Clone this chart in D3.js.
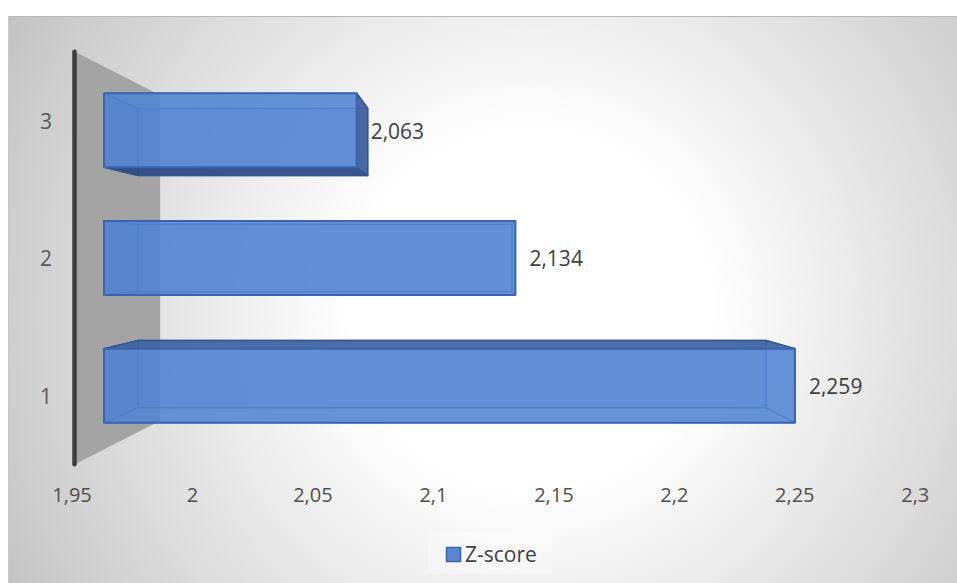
<!DOCTYPE html>
<html>
<head>
<meta charset="utf-8">
<script src="https://cdn.jsdelivr.net/npm/d3@7"></script>
<style>
  html, body { margin: 0; padding: 0; background: #ffffff; }
  svg { display: block; }
  text { font-family: "Open Sans", "Noto Sans", sans-serif; }
</style>
</head>
<body>
<svg id="chart" width="957" height="583"></svg>
<script>
// ---- data ----
const categories = ["1", "2", "3"];
const values = [2.259, 2.134, 2.063];
const seriesName = "Z-score";
const tickValues = [1.95, 2.0, 2.05, 2.1, 2.15, 2.2, 2.25, 2.3];
const labelFormat = v => String(v).replace(".", ",");

// ---- layout ----
const W = 957, H = 583;
const svg = d3.select("#chart");
const vp = [478, 258];            // vanishing point of the 3D view
const sFront = 1.0, sBack = 0.909; // depth of the bars
const sWallFront = 1.0775, sWallBack = 0.85; // depth of the floor/wall
const P = (x, y, s) => [vp[0] + s * (x - vp[0]), vp[1] + s * (y - vp[1])];

const x = d3.scaleLinear().domain([1.95, 2.3]).range([104, 886.6]);
const y = d3.scaleBand().domain(categories.slice().reverse())
  .range([66.5, 449.5]).paddingInner(0.42).paddingOuter(0.21);

// ---- background ----
const defs = svg.append("defs");
const grad = defs.append("radialGradient").attr("id", "bg")
  .attr("gradientUnits", "userSpaceOnUse")
  .attr("cx", 530).attr("cy", 310).attr("r", 640);
grad.append("stop").attr("offset", 0).attr("stop-color", "#ffffff");
grad.append("stop").attr("offset", 0.28).attr("stop-color", "#ffffff");
grad.append("stop").attr("offset", 1).attr("stop-color", "#bdbdbd");

svg.append("rect").attr("x", 8).attr("y", 16).attr("width", W).attr("height", H)
  .attr("fill", "url(#bg)");
svg.append("line").attr("x1", 8).attr("x2", W).attr("y1", 16.5).attr("y2", 16.5)
  .attr("stroke", "#b8b8b8").attr("stroke-width", 1);
svg.append("line").attr("x1", 8.5).attr("x2", 8.5).attr("y1", 16).attr("y2", H)
  .attr("stroke", "#c8c8c8").attr("stroke-width", 1);

// ---- wall / floor (at the minimum value) ----
const [r0, r1] = y.range();
const xw = x.domain()[0];
const wallPts = [P(x(xw), r0, sWallFront), P(x(xw), r0, sWallBack),
                 P(x(xw), r1, sWallBack), P(x(xw), r1, sWallFront)];
svg.append("polygon").attr("points", wallPts.map(p => p.join(",")).join(" "))
  .attr("fill", "#a4a4a4");

// axis line
const a0 = P(x(xw), r0, sWallFront), a1 = P(x(xw), r1, sWallFront);
svg.append("line").attr("x1", a0[0] - 0.5).attr("y1", a0[1]).attr("x2", a1[0] - 0.5).attr("y2", a1[1])
  .attr("stroke", "#3d3d3d").attr("stroke-width", 4.5).attr("stroke-linecap", "round");

// ---- bars ----
const data = categories.map((c, i) => ({ cat: c, value: values[i] }));
const poly = (g, pts, fill, op, stroke, sw, sop) => g.append("polygon")
  .attr("points", pts.map(p => p.join(",")).join(" "))
  .attr("fill", fill).attr("fill-opacity", op)
  .attr("stroke", stroke).attr("stroke-width", sw).attr("stroke-opacity", sop)
  .attr("stroke-linejoin", "round");

data.forEach(d => {
  const g = svg.append("g");
  const x0 = x(x.domain()[0]), x1 = x(d.value);
  const y0 = y(d.cat), y1 = y0 + y.bandwidth();
  const F = (xx, yy) => P(xx, yy, sFront), B = (xx, yy) => P(xx, yy, sBack);
  const back = [B(x0, y0), B(x1, y0), B(x1, y1), B(x0, y1)];
  const top = [F(x0, y0), F(x1, y0), B(x1, y0), B(x0, y0)];
  const bottom = [F(x0, y1), F(x1, y1), B(x1, y1), B(x0, y1)];
  const left = [F(x0, y0), B(x0, y0), B(x0, y1), F(x0, y1)];
  const right = [F(x1, y0), B(x1, y0), B(x1, y1), F(x1, y1)];
  const front = [F(x0, y0), F(x1, y0), F(x1, y1), F(x0, y1)];

  poly(g, back, "#4472c4", 0.3, "#3a66b5", 1.2, 0.8);
  const topVis = y0 > vp[1], botVis = y1 < vp[1], rightVis = x1 < vp[0];
  if (!topVis) poly(g, top, "#4472c4", 0.15, "#3a66b5", 1.2, 0.7);
  if (!botVis) poly(g, bottom, "#4472c4", 0.15, "#3a66b5", 1.2, 0.7);
  poly(g, left, "#3b64b0", 0.3, "#3a66b5", 1.2, 0.8);
  if (!rightVis) poly(g, right, "#4472c4", 0.15, "#3a66b5", 1.2, 0.7);
  if (topVis) poly(g, top, "#41649f", 0.92, "#2f5597", 1.5, 1);
  if (botVis) poly(g, bottom, "#2d4a80", 0.92, "#2f5597", 1.5, 1);
  if (rightVis) poly(g, right, "#3f5f9c", 0.92, "#2f5597", 1.5, 1);
  poly(g, front, "#5283d2", 0.86, "#3a63b2", 2, 1);

  const cy = (y0 + y1) / 2;
  svg.append("text").attr("x", x1 + 14).attr("y", cy + 0.357 * 21 + 1)
    .attr("font-size", 21).attr("fill", "#404040").text(labelFormat(d.value));
});

// ---- category labels ----
categories.forEach(c => {
  const p = P(0, y(c) + y.bandwidth() / 2, sWallFront);
  svg.append("text").attr("x", 46).attr("y", p[1] + 0.357 * 21 + 1)
    .attr("text-anchor", "middle").attr("font-size", 21).attr("fill", "#595959").text(c);
});

// ---- value tick labels ----
tickValues.forEach(v => {
  const p = P(x(v), r1, sWallFront);
  svg.append("text").attr("x", p[0] - 3).attr("y", p[1] + 38)
    .attr("text-anchor", "middle").attr("font-size", 20).attr("fill", "#505050")
    .text(labelFormat(v));
});

// ---- legend ----
const lg = svg.append("g");
lg.append("rect").attr("x", 428).attr("y", 532).attr("width", 124).attr("height", 42)
  .attr("fill", "#ffffff").attr("fill-opacity", 0.25);
lg.append("rect").attr("x", 446.5).attr("y", 547.5).attr("width", 14).attr("height", 14)
  .attr("fill", "#5a86d0").attr("stroke", "#3a63b2").attr("stroke-width", 1.5);
lg.append("text").attr("x", 465).attr("y", 554.5 + 0.357 * 21)
  .attr("font-size", 21).attr("fill", "#404040").text(seriesName);
</script>
</body>
</html>
